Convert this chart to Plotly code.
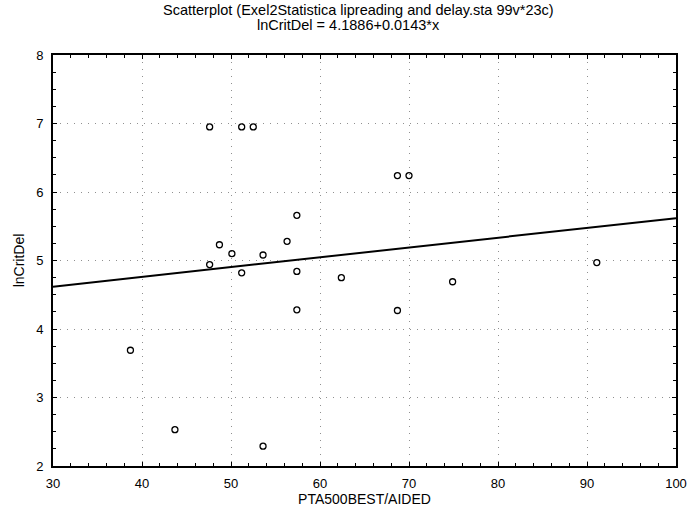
import numpy as np
import plotly.graph_objects as go

# PTA500BEST/AIDED vs lnCritDel
pta500 = [47.6, 51.2, 52.5, 57.4, 56.3, 48.7, 50.1, 53.6, 47.6, 51.2, 57.4,
          62.4, 57.4, 68.7, 70.0, 91.1, 74.9, 68.7, 38.7, 43.7, 53.6]
ln_crit_del = [6.95, 6.95, 6.95, 5.66, 5.28, 5.23, 5.10, 5.08, 4.94, 4.82, 4.84,
               4.75, 4.28, 6.24, 6.24, 4.97, 4.69, 4.27, 3.69, 2.53, 2.29]

# fitted line from the chart title
intercept = 4.1886
slope = 0.0143
x_range = [30, 100]
y_range = [2, 8]

x_tick_vals = [30, 40, 50, 60, 70, 80, 90, 100]
y_tick_vals = [2, 3, 4, 5, 6, 7, 8]

title_line1 = 'Scatterplot (Exel2Statistica lipreading and delay.sta 99v*23c)'
title_line2 = 'lnCritDel = 4.1886+0.0143*x'

font_family = "Liberation Sans, Arial, sans-serif"

fit_x = np.array(x_range, dtype=float)
fit_y = intercept + slope * fit_x

fig = go.Figure()

fig.add_trace(go.Scatter(
    x=fit_x, y=fit_y,
    mode='lines',
    line=dict(color='black', width=2),
    hoverinfo='skip',
    showlegend=False
))

fig.add_trace(go.Scatter(
    x=pta500, y=ln_crit_del,
    mode='markers',
    marker=dict(symbol='circle-open', size=6, color='black', line=dict(width=1.3)),
    showlegend=False
))

axis_common = dict(
    showline=True, linecolor='black', linewidth=2, mirror='allticks',
    ticks='inside', ticklen=4, tickcolor='black', tickwidth=1,
    showgrid=True, gridcolor='#909090', gridwidth=1, griddash='1px,6px',
    zeroline=False, automargin=False,
    tickfont=dict(family=font_family, size=13, color='black'),
)

fig.update_xaxes(
    range=x_range, tickvals=x_tick_vals, ticklabelstandoff=4,
    minor=dict(ticks='inside', dtick=2, ticklen=3, tickcolor='black', showgrid=False),
    title=dict(text='PTA500BEST/AIDED', font=dict(family=font_family, size=14, color='black'),
               standoff=4),
    **axis_common
)
fig.update_yaxes(
    range=y_range, tickvals=y_tick_vals, ticklabelstandoff=5,
    minor=dict(ticks='inside', dtick=0.25, ticklen=3, tickcolor='black', showgrid=False),
    title=dict(text='lnCritDel', font=dict(family=font_family, size=14, color='black'),
               standoff=8),
    **axis_common
)

# two-line title as annotations above the plot area
fig.add_annotation(text=title_line1, xref='paper', yref='paper', x=0.49, y=1.11,
                   xanchor='center', yanchor='middle', showarrow=False,
                   font=dict(family=font_family, size=14.5, color='black'))
fig.add_annotation(text=title_line2, xref='paper', yref='paper', x=0.475, y=1.073,
                   xanchor='center', yanchor='middle', showarrow=False,
                   font=dict(family=font_family, size=14.5, color='black'))

fig.update_layout(
    width=689, height=513,
    margin=dict(l=53, r=13, t=55, b=47),
    paper_bgcolor='white', plot_bgcolor='white',
    font=dict(family=font_family, color='black'),
)

fig.write_html("out.html", config={'displayModeBar': False},
               post_script="document.body.style.margin='0px';")
